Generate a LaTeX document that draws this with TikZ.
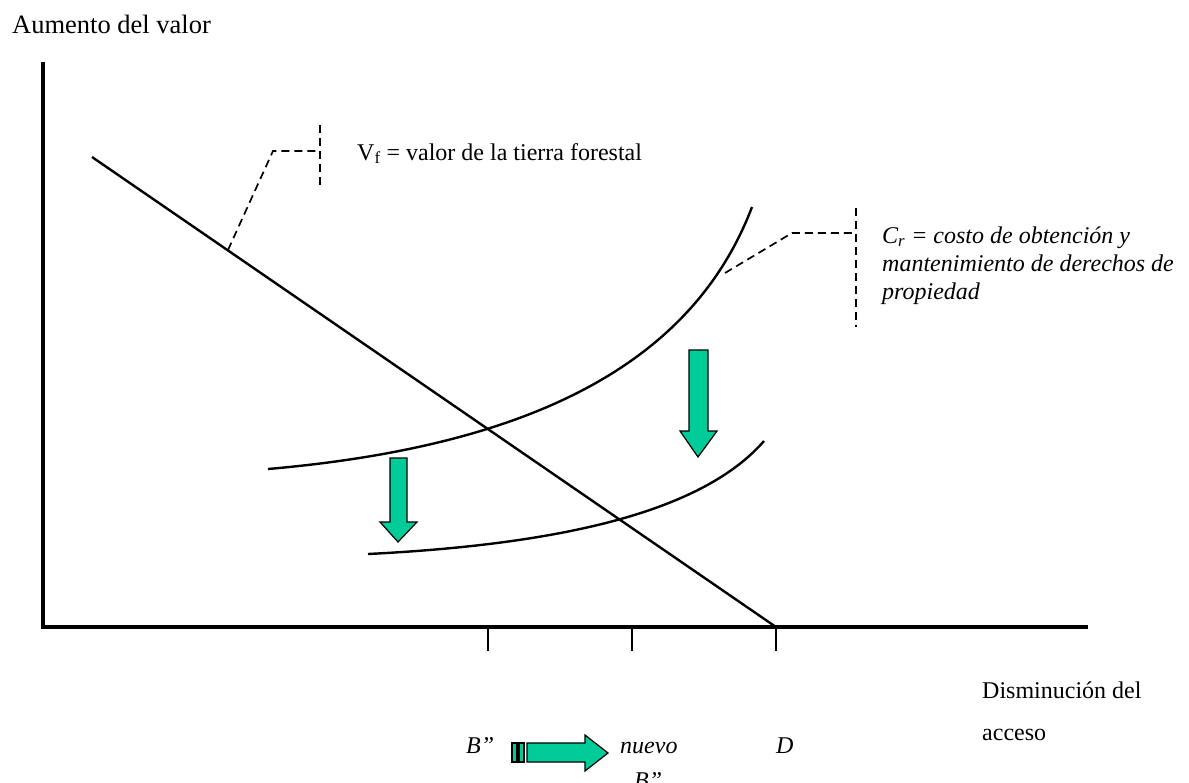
\documentclass[tikz,border=0pt]{standalone}
\usepackage{fontspec}
\setmainfont{Liberation Serif}
\definecolor{arrowgreen}{RGB}{0,204,153}
\begin{document}
\begin{tikzpicture}[x=1pt,y=-1pt,
  axis/.style={line width=3.2pt},
  tickmark/.style={line width=1.8pt},
  curve/.style={line width=2.4pt},
  callout/.style={line width=1.7pt, dash pattern=on 8pt off 5pt},
  garrow/.style={fill=arrowgreen, draw=black, line width=1.2pt, line join=miter},
  lbl/.style={anchor=base west, inner sep=0pt, font=\fontsize{24}{28}\selectfont},
  ilbl/.style={lbl, font=\fontsize{24}{28}\selectfont\itshape}
]
\useasboundingbox (0,0) rectangle (1189,782);
% axes
\coordinate (Ytop) at (43,62);
\coordinate (O) at (43,627);
\coordinate (Xend) at (1088,627);
\draw[axis] (Ytop) -- (O) -- (Xend);
% ticks
\coordinate (t1) at (488,627); \coordinate (t1b) at (488,651);
\coordinate (t2) at (632,627); \coordinate (t2b) at (632,651);
\coordinate (t3) at (776,627); \coordinate (t3b) at (776,651);
\draw[tickmark] (t1) -- (t1b);
\draw[tickmark] (t2) -- (t2b);
\draw[tickmark] (t3) -- (t3b);
% Vf line
\coordinate (vfA) at (92,157);
\draw[curve] (vfA) -- (t3);
% Cr curves
\coordinate (crA) at (268,469); \coordinate (crB) at (752,207);
\draw[curve] (crA) .. controls (520,447) and (690,370) .. (crB);
\coordinate (nrA) at (368,554); \coordinate (nrB) at (764,441);
\draw[curve] (nrA) .. controls (568,544) and (704,510) .. (nrB);
% callout 1
\coordinate (c1a) at (228,250); \coordinate (c1b) at (273,151); \coordinate (c1c) at (320,151);
\coordinate (c1t) at (320,125); \coordinate (c1d) at (320,185);
\draw[callout] (c1a) -- (c1b) -- (c1c);
\draw[callout] (c1t) -- (c1d);
% callout 2
\coordinate (c2a) at (725,273); \coordinate (c2b) at (792,233); \coordinate (c2c) at (856,233);
\coordinate (c2t) at (856,208); \coordinate (c2d) at (856,327);
\draw[callout] (c2a) -- (c2b) -- (c2c);
\draw[callout] (c2t) -- (c2d);
% green down arrows
\draw[garrow] (689,350) -- (708,350) -- (708,431) -- (717,431) -- (698,457) -- (680,431) -- (689,431) -- cycle;
\draw[garrow] (390,458) -- (407,458) -- (407,522) -- (417,522) -- (398,542) -- (380,522) -- (390,522) -- cycle;
% striped right arrow
\draw[garrow] (512,743) rectangle (517,762);
\draw[garrow] (519,743) rectangle (524,762);
\draw[garrow] (527,743) -- (585,743) -- (585,735) -- (608,753) -- (585,771) -- (585,762) -- (527,762) -- cycle;
% labels
\node[lbl, font=\fontsize{26.5}{30}\selectfont] (ylab) at (12,33) {Aumento del valor};
\node[lbl] (vflab) at (357,160) {V\textsubscript{f} = valor de la tierra forestal};
\node[ilbl] (cr1) at (882,243) {C\textsubscript{r} = costo de obtención y};
\node[ilbl] (cr2) at (882,271) {mantenimiento de derechos de};
\node[ilbl] (cr3) at (882,299) {propiedad};
\node[lbl] (xlab1) at (982,698) {Disminución del};
\node[lbl] (xlab2) at (982,740) {acceso};
\node[ilbl] (bl) at (466,753) {B”};
\node[ilbl] (nv) at (620,753) {nuevo};
\node[ilbl] (nvb) at (634,788) {B”};
\node[ilbl] (dl) at (776,753) {D};
\end{tikzpicture}
\end{document}
